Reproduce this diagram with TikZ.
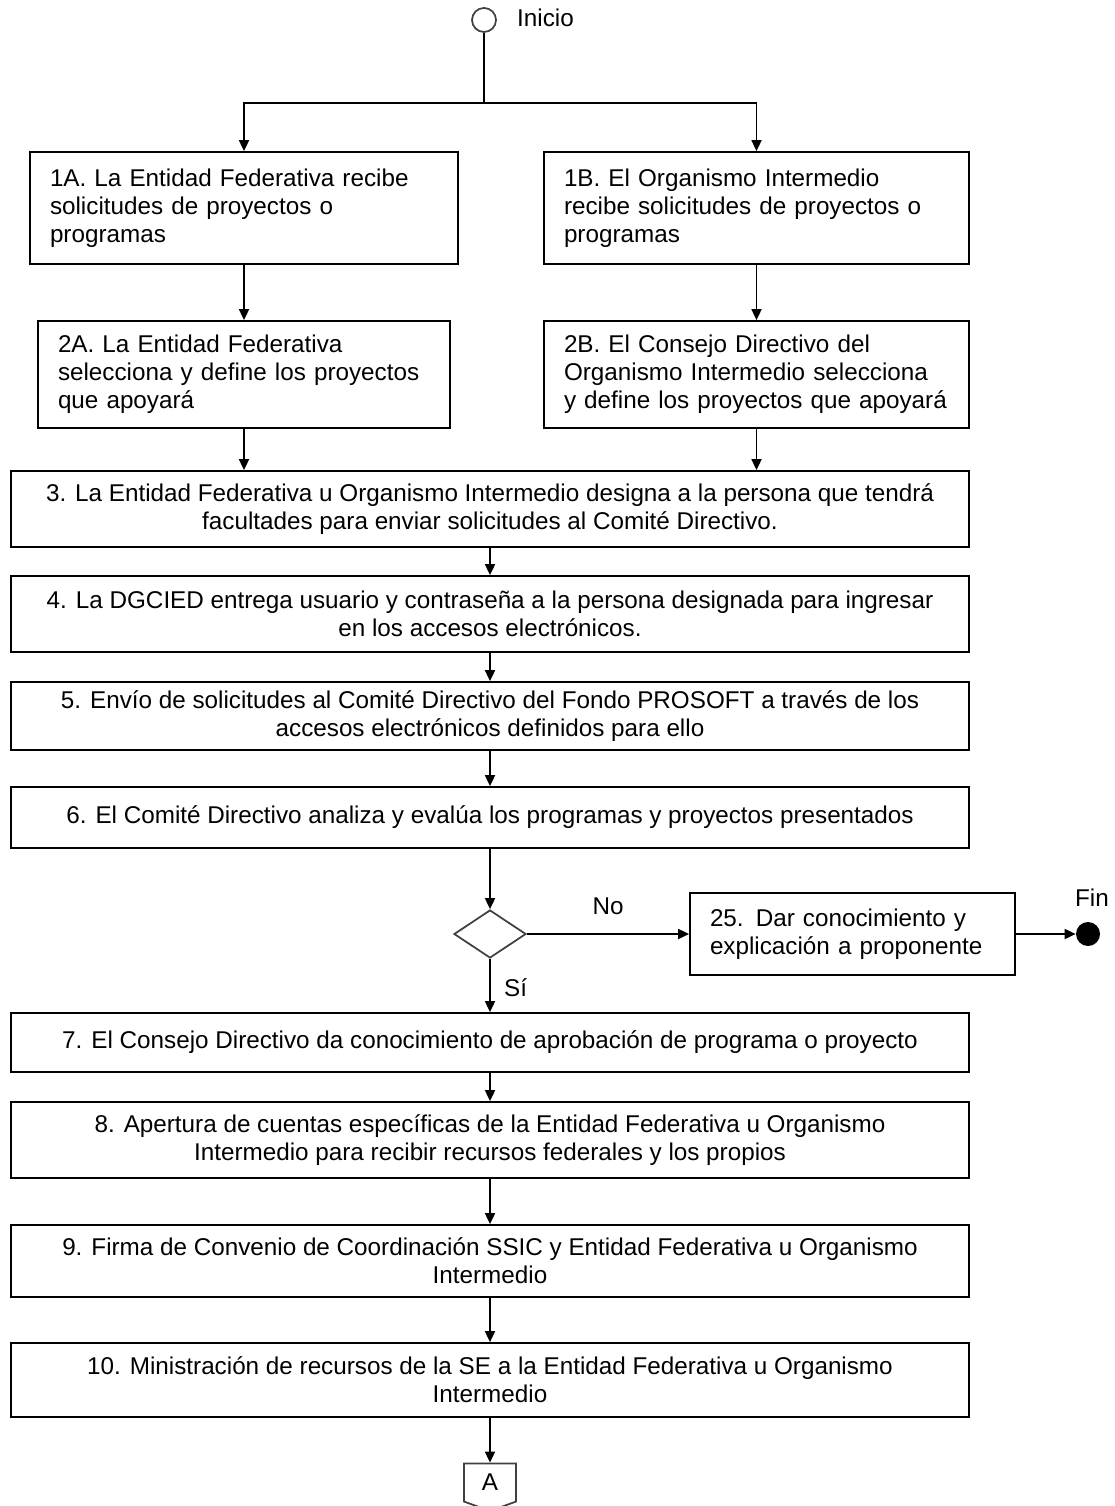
\documentclass[tikz,border=0pt]{standalone}
\usepackage{fontspec}
\setmainfont{Liberation Sans}
\usetikzlibrary{shapes,arrows,arrows.meta,positioning,calc}

\begin{document}
\begin{tikzpicture}[
    font=\fontsize{13.8}{16}\selectfont,
    leftbox/.style={rectangle, draw, line width=1pt, align=left, inner xsep=0.4cm, inner ysep=0pt},
    widebox/.style={rectangle, draw, line width=1pt, align=center, minimum width=19.16cm, inner sep=0pt},
    terminal/.style={circle, draw=black!75, line width=1pt, minimum size=0.48cm, inner sep=0pt},
    decision/.style={diamond, draw=black!75, line width=1pt, minimum width=1.44cm, minimum height=0.96cm, inner sep=0pt},
    arrow/.style={line width=1pt, ->, >={Triangle[length=0.22cm, width=0.2cm]}}
]
\useasboundingbox (0,0) rectangle (22.28,-30.12);

% Start and split
\node[terminal] (inicio) at (9.68,-0.40) {};
\node[anchor=west] (inicio_txt) at (10.22,-0.36) {Inicio};
\coordinate (split) at (9.68,-2.06);

% Two branches
\node[leftbox, text width=7.76cm, minimum height=2.24cm] (paso1a) at (4.88,-4.16)
    {1A. La Entidad Federativa recibe\\ solicitudes de proyectos o\\ programas};
\node[leftbox, text width=7.70cm, minimum height=2.24cm] (paso1b) at (15.13,-4.16)
    {1B. El Organismo Intermedio\\ recibe solicitudes de proyectos o\\ programas};
\node[leftbox, text width=7.44cm, minimum height=2.14cm] (paso2a) at (4.88,-7.49)
    {2A. La Entidad Federativa\\ selecciona y define los proyectos\\ que apoyará};
\node[leftbox, text width=7.70cm, minimum height=2.14cm] (paso2b) at (15.13,-7.49)
    {2B. El Consejo Directivo del\\ Organismo Intermedio selecciona\\ y define los proyectos que apoyará};

% Main sequence
\node[widebox, minimum height=1.52cm] (paso3) at (9.80,-10.18)
    {3. La Entidad Federativa u Organismo Intermedio designa a la persona que tendrá\\ facultades para enviar solicitudes al Comité Directivo.};
\node[widebox, minimum height=1.52cm] (paso4) at (9.80,-12.28)
    {4. La DGCIED entrega usuario y contraseña a la persona designada para ingresar\\ en los accesos electrónicos.};
\node[widebox, minimum height=1.36cm] (paso5) at (9.80,-14.32)
    {5. Envío de solicitudes al Comité Directivo del Fondo PROSOFT a través de los\\ accesos electrónicos definidos para ello};
\node[widebox, minimum height=1.22cm] (paso6) at (9.80,-16.35)
    {6. El Comité Directivo analiza y evalúa los programas y proyectos presentados};

% Decision
\node[decision] (evalua) at (9.80,-18.68) {};
\node[leftbox, text width=5.70cm, minimum height=1.64cm] (paso25) at (17.05,-18.68)
    {25. Dar conocimiento y\\ explicación a proponente};
\node[circle, fill=black, minimum size=0.48cm, inner sep=0pt] (fin) at (21.76,-18.68) {};
\node (fin_txt) at (21.84,-17.96) {Fin};

\node[widebox, minimum height=1.18cm] (paso7) at (9.80,-20.85)
    {7. El Consejo Directivo da conocimiento de aprobación de programa o proyecto};
\node[widebox, minimum height=1.52cm] (paso8) at (9.80,-22.80)
    {8. Apertura de cuentas específicas de la Entidad Federativa u Organismo\\ Intermedio para recibir recursos federales y los propios};
\node[widebox, minimum height=1.44cm] (paso9) at (9.80,-25.22)
    {9. Firma de Convenio de Coordinación SSIC y Entidad Federativa u Organismo\\ Intermedio};
\node[widebox, minimum height=1.48cm] (paso10) at (9.80,-27.60)
    {10. Ministración de recursos de la SE a la Entidad Federativa u Organismo\\ Intermedio};

% Connector
\node[signal, signal to=south, signal pointer angle=140, draw=black!75, line width=1pt,
    minimum width=1.04cm, minimum height=0.82cm, inner sep=0pt] (conA) at (9.80,-29.65) {A};

% Arrows
\draw[line width=1pt] (inicio) -- (split);
\draw[arrow] (split) -| (paso1a);
\draw[arrow] (split) -| (paso1b);
\draw[arrow] (paso1a) -- (paso2a);
\draw[arrow] (paso1b) -- (paso2b);
\draw[arrow] (paso2a.south) -- (paso2a.south |- paso3.north);
\draw[arrow] (paso2b.south) -- (paso2b.south |- paso3.north);
\draw[arrow] (paso3) -- (paso4);
\draw[arrow] (paso4) -- (paso5);
\draw[arrow] (paso5) -- (paso6);
\draw[arrow] (paso6) -- (evalua);
\draw[arrow] (evalua) -- node[above, pos=0.5, yshift=0.25cm] {No} (paso25);
\draw[arrow] (paso25) -- (fin);
\draw[arrow] (evalua) -- node[right, pos=0.55, xshift=0.15cm] {Sí} (paso7);
\draw[arrow] (paso7) -- (paso8);
\draw[arrow] (paso8) -- (paso9);
\draw[arrow] (paso9) -- (paso10);
\draw[arrow] (paso10) -- (conA);

\end{tikzpicture}
\end{document}
